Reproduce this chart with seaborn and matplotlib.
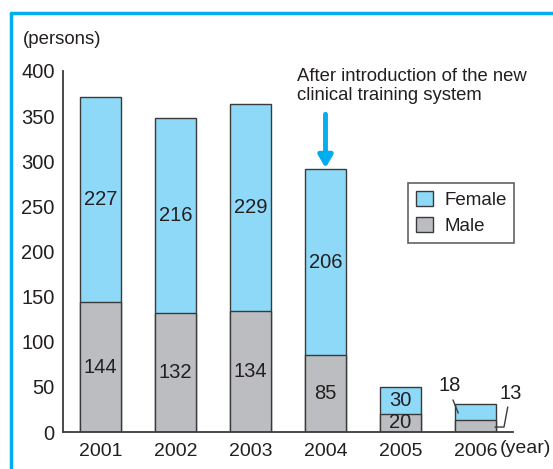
import numpy as np
import pandas as pd
import matplotlib
matplotlib.use("Agg")
import matplotlib.pyplot as plt
from matplotlib.patches import Patch
from matplotlib.lines import Line2D
import seaborn as sns

# ─────────────────────────────────────────────
# DATA
# ─────────────────────────────────────────────
years = ["2001", "2002", "2003", "2004", "2005", "2006"]
female = [227, 216, 229, 206, 30, 18]
male = [144, 132, 134, 85, 20, 13]

df = pd.DataFrame({"year": years, "female": female, "male": male})
df["total"] = df["female"] + df["male"]

BLUE = "#8ed8f8"
GRAY = "#bcbdc0"
EDGE = "#3a3a3a"
FRAME = "#00aeef"
TXT = "#231f20"

sns.set_theme(style="white")
plt.rcParams["font.family"] = ["Liberation Sans", "DejaVu Sans"]

W, H = 553, 469
fig = plt.figure(figsize=(W / 100, H / 100), dpi=100)
ax = fig.add_axes([63 / W, 37 / H, 450 / W, 361 / H])

# stacked bars: total in blue, male drawn over it in gray
sns.barplot(data=df, x="year", y="total", color=BLUE, saturation=1,
            width=0.55, edgecolor=EDGE, linewidth=1, ax=ax)
sns.barplot(data=df, x="year", y="male", color=GRAY, saturation=1,
            width=0.55, edgecolor=EDGE, linewidth=1, ax=ax)

ax.set_xlim(-0.5, 5.5)
ax.set_ylim(0, 400)
ax.set_yticks(range(0, 401, 50))
ax.set_xlabel("")
ax.set_ylabel("")

for s in ["top", "right"]:
    ax.spines[s].set_visible(False)
for s in ["left", "bottom"]:
    ax.spines[s].set_color(EDGE)
    ax.spines[s].set_linewidth(1.3)

FS = 14.5
ax.tick_params(axis="y", direction="in", length=8, width=1.3, color=EDGE,
               labelsize=FS, labelcolor=TXT, pad=6)
ax.set_xticks(np.arange(0.5, 6, 1), minor=True)
ax.tick_params(axis="x", which="major", length=0, labelsize=FS - 0.5,
               labelcolor=TXT, pad=8)
ax.tick_params(axis="x", which="minor", direction="in", length=6,
               width=1.3, color=EDGE)

# value labels (2006 handled separately)
for i in range(len(years) - 1):
    ax.text(i, male[i] / 2, str(male[i]), ha="center", va="center",
            fontsize=FS, color=TXT)
    ax.text(i, male[i] + female[i] / 2, str(female[i]), ha="center",
            va="center", fontsize=FS, color=TXT)

# 2006 labels with leader lines
ax.text(4.66, 52, str(female[5]), ha="center", va="center", fontsize=FS,
        color=TXT, clip_on=False)
ax.plot([4.70, 4.77], [35.5, 21], color=EDGE, lw=1, clip_on=False)
ax.text(5.47, 43, str(male[5]), ha="center", va="center", fontsize=FS,
        color=TXT, clip_on=False)
ax.plot([5.43, 5.38, 5.26], [27.7, 5.5, 5.5], color=EDGE, lw=1,
        clip_on=False)

# arrow at 2004
ax.annotate("", xy=(3, df["total"][3] + 1.5), xytext=(3, 352),
            arrowprops=dict(arrowstyle="-|>,head_width=0.35,head_length=0.6",
                            color=FRAME, lw=3.5, shrinkA=0, shrinkB=0),
            annotation_clip=False)
fig.text(297 / W, 1 - 68 / H,
         "After introduction of the new\nclinical training system",
         ha="left", va="top", fontsize=13.3, color=TXT, linespacing=1.12)

# legend
handles = [Patch(facecolor=BLUE, edgecolor=EDGE, label="Female"),
           Patch(facecolor=GRAY, edgecolor=EDGE, label="Male")]
leg = ax.legend(handles=handles, loc="upper left",
                bbox_to_anchor=((408 - 63) / 450, (432 - 183) / 361),
                fontsize=13.5, frameon=True, fancybox=False, shadow=False,
                handlelength=0.9, handleheight=0.9, handletextpad=0.6,
                borderpad=0.42, labelspacing=0.4, borderaxespad=0)
leg.get_frame().set_edgecolor(EDGE)
leg.get_frame().set_linewidth(1.2)
for t in leg.get_texts():
    t.set_color(TXT)

# axis captions
fig.text(23 / W, 1 - 40 / H, "(persons)", ha="left", va="center",
         fontsize=13.4, color=TXT)
fig.text(500 / W, 1 - 448 / H, "(year)", ha="left", va="center",
         fontsize=14, color=TXT)

# blue frame around the figure
fig.add_artist(Line2D([10.5 / W, 10.5 / W], [0, 1 - 13.5 / H],
                      transform=fig.transFigure, color=FRAME, lw=2.5))
fig.add_artist(Line2D([10.5 / W, 1], [1 - 13.5 / H, 1 - 13.5 / H],
                      transform=fig.transFigure, color=FRAME, lw=2.5))

plt.savefig("out.png", dpi=100)
